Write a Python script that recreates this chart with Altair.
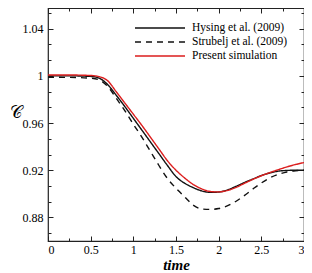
import altair as alt
import pandas as pd

time = [0, 0.25, 0.5, 0.6, 0.7, 0.8, 0.9, 1.0, 1.1, 1.2, 1.3, 1.4, 1.5, 1.6,
        1.7, 1.8, 1.9, 2.0, 2.1, 2.2, 2.3, 2.4, 2.5, 2.6, 2.7, 2.8, 2.9, 3.0]
hysing = [1.0, 1.0, 0.9995, 0.998, 0.9925, 0.9835, 0.974, 0.964, 0.954, 0.944,
          0.934, 0.924, 0.9146, 0.909, 0.9053, 0.9025, 0.9012, 0.9015, 0.9032,
          0.9062, 0.9095, 0.9125, 0.9155, 0.9177, 0.9192, 0.9198, 0.920, 0.920]
strubelj = [0.9988, 0.9987, 0.998, 0.9965, 0.991, 0.981, 0.9705, 0.959, 0.948,
            0.936, 0.924, 0.913, 0.9047, 0.8975, 0.8905, 0.8872, 0.8868, 0.8875,
            0.8897, 0.8935, 0.8985, 0.904, 0.9092, 0.9135, 0.9165, 0.9185,
            0.9195, 0.920]
present = [1.0007, 1.0007, 1.0003, 0.9993, 0.9958, 0.9865, 0.977, 0.9675, 0.958,
           0.948, 0.938, 0.928, 0.920, 0.9135, 0.908, 0.9042, 0.902, 0.9016,
           0.9028, 0.9053, 0.9088, 0.9122, 0.9153, 0.918, 0.9205, 0.9228,
           0.9248, 0.9265]
series_names = ["Hysing et al. (2009)", "Strubelj et al. (2009)", "Present simulation"]
series_colors = ["#111111", "#111111", "#dc1e1e"]
series_dashes = [[1, 0], [6, 5], [1, 0]]

x_major = [0, 0.5, 1, 1.5, 2, 2.5, 3]
x_minor = [0.25, 0.75, 1.25, 1.75, 2.25, 2.75]
y_major = [0.88, 0.92, 0.96, 1.0, 1.04]
y_minor = [0.8667, 0.8933, 0.9067, 0.9333, 0.9467, 0.9733, 0.9867, 1.0133,
           1.0267, 1.0533]

rows = []
for name, vals in zip(series_names, [hysing, strubelj, present]):
    for t, v in zip(time, vals):
        rows.append({"time": t, "C": v, "series": name})
df = pd.DataFrame(rows)

FONT = "Liberation Serif"
INK = "#222222"
xs = alt.Scale(domain=[0, 3], nice=False, zero=False)
ys = alt.Scale(domain=[0.86, 1.0575], nice=False, zero=False)

base = alt.Chart(df)

legend = alt.Legend(
    title=None, orient="none", legendX=106, legendY=14,
    symbolType="M-5,0H5", symbolSize=100, symbolStrokeWidth=1.5,
    symbolFillColor="transparent",
    labelFont=FONT, labelFontSize=11.5, labelColor="black",
    labelOffset=26, rowPadding=2, padding=0,
)

lines = base.mark_line(strokeWidth=1.4, interpolate="monotone").encode(
    x=alt.X("time:Q", scale=xs, axis=alt.Axis(
        orient="bottom", values=x_major, format="~g", ticks=False,
        domain=False, grid=False, labelPadding=3, title="time",
        titleFont=FONT, titleFontSize=15, titleFontWeight="bold",
        titleFontStyle="italic", titleY=28, titleBaseline="alphabetic",
        titleColor="black")),
    y=alt.Y("C:Q", scale=ys, axis=alt.Axis(
        orient="left", values=y_major, format="~g", ticks=False,
        domain=False, grid=False, labelPadding=5, title="𝒞",
        titleAngle=0, titleX=-33, titleY=104, titleAlign="center",
        titleBaseline="middle", titleFontSize=17, titleFont="DejaVu Serif",
        titleFontWeight="normal", titleColor="black")),
    color=alt.Color("series:N", scale=alt.Scale(domain=series_names, range=series_colors),
                    legend=legend),
    strokeDash=alt.StrokeDash("series:N", scale=alt.Scale(domain=series_names, range=series_dashes),
                              legend=legend),
)


def tick_axis(orient, values, size):
    return alt.Axis(orient=orient, values=values, labels=False, ticks=True,
                    tickSize={"expr": str(-size)}, domain=False, grid=False,
                    title=None, tickColor=INK, tickWidth=1)


def ghost(xo, xv, xsz, yo, yv, ysz):
    return base.mark_line(opacity=0).encode(
        x=alt.X("time:Q", scale=xs, axis=tick_axis(xo, xv, xsz)),
        y=alt.Y("C:Q", scale=ys, axis=tick_axis(yo, yv, ysz)),
        detail="series:N",
    )


chart = alt.layer(
    lines,
    ghost("bottom", x_major, 5, "left", y_major, 5),
    ghost("top", x_major, 5, "right", y_major, 5),
    ghost("bottom", x_minor, 3, "left", y_minor, 3),
    ghost("top", x_minor, 3, "right", y_minor, 3),
).resolve_axis(x="independent", y="independent").properties(
    width=256, height=233,
    autosize=alt.AutoSizeParams(type="none"),
    padding={"left": 40, "top": 0, "right": 0, "bottom": 32},
).configure_view(stroke=INK, strokeWidth=1.2).configure_axis(
    labelFont=FONT, labelFontSize=12, labelColor="black"
)

chart.save("out.html", embed_options={"renderer": "svg", "actions": False})
